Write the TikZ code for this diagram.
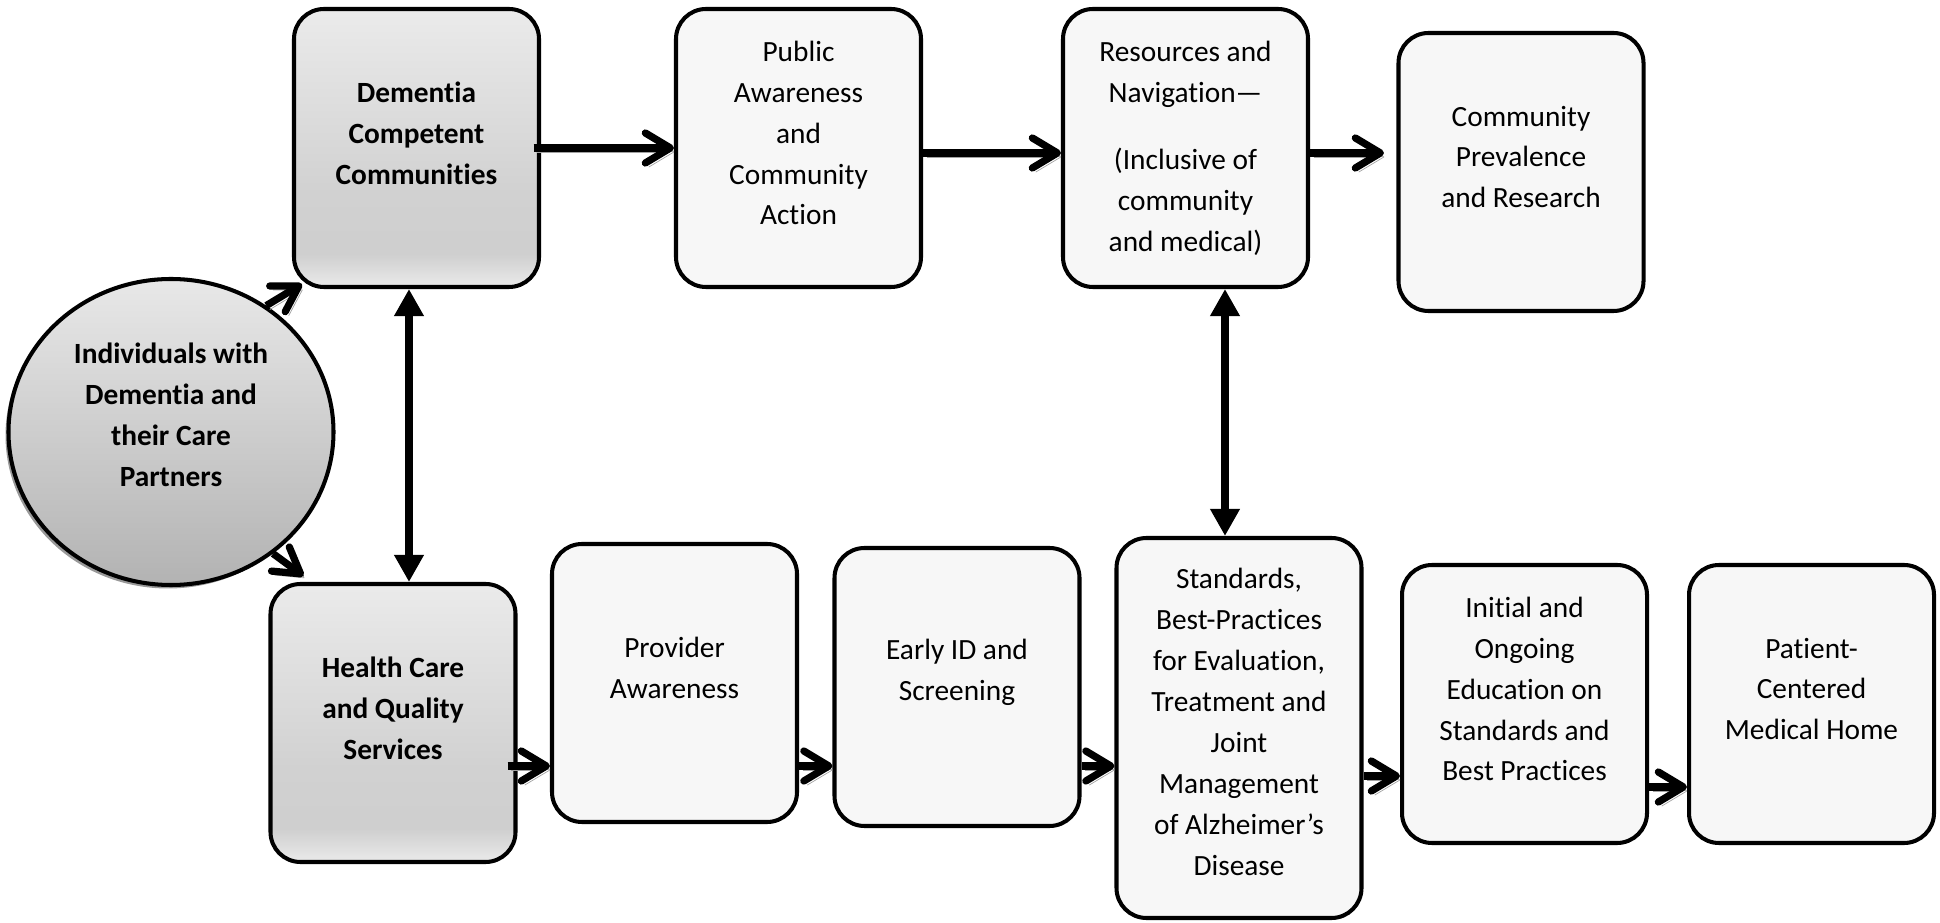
\documentclass[tikz,border=0pt]{standalone}
\usepackage{fontspec}
\setmainfont{Carlito}[Ligatures=NoCommon]
\usetikzlibrary{arrows.meta,shapes.geometric,shadows}
\definecolor{boxfill}{gray}{0.97}
\definecolor{arrowshade}{gray}{0.63}
\newcommand{\boxsize}{\fontsize{16.7pt}{23.3pt}\selectfont}
\pgfdeclareverticalshading{softgray}{100bp}{color(0bp)=(black!8); color(25bp)=(black!8); color(31bp)=(black!19); color(42bp)=(black!18); color(75bp)=(black!8); color(100bp)=(black!8)}
\tikzset{
  box/.style={draw, line width=2.3pt, rounded corners=0.6cm, fill=boxfill,
    minimum width=4.9cm, minimum height=5.56cm, inner sep=0pt},
  shadedbox/.style={box, shading=softgray},
  circ/.style={ellipse, draw, line width=2.3pt, top color=black!9, bottom color=black!30,
    minimum width=6.5cm, minimum height=6.12cm, inner sep=0pt,
    drop shadow={shadow xshift=-0.06cm, shadow yshift=-0.07cm, fill=black!40, opacity=1}},
  txt/.style={align=center, font=\boxsize, yshift=0.3cm},
  txtb/.style={txt, font=\boxsize\bfseries},
  flow/.style={line width=0.145cm, -{Straight Barb[length=0.5cm, width=0.6cm, round]},
    preaction={draw=arrowshade, transform canvas={shift={(0.07cm,-0.08cm)}}}},
  link/.style={line width=0.17cm, {Triangle[length=0.54cm, width=0.56cm]}-{Triangle[length=0.54cm, width=0.56cm]}}
}
\begin{document}
\begin{tikzpicture}
   \useasboundingbox (0,0) rectangle (38.8,18.44);
   % community row
   \node[shadedbox, label={[txtb]center:{Dementia\\Competent\\Communities}}] (dcc) at (8.33,15.48) {};
   \node[box, label={[txt]center:{Public\\Awareness\\and\\Community\\Action}}] (pub) at (15.97,15.48) {};
   \node[box, label={[txt, yshift=-0.3cm]center:{Resources and\\Navigation\textemdash\\[0.52cm](Inclusive of\\community\\and medical)}}] (res) at (23.71,15.48) {};
   \node[box, label={[txt]center:{Community\\Prevalence\\and Research}}] (comm) at (30.42,15.0) {};
   % individuals
   \node[circ, label={[txtb, yshift=0.04cm]center:{Individuals with\\Dementia and\\their Care\\Partners}}] (ind) at (3.42,9.8) {};
   % health care row
   \node[shadedbox, label={[txtb]center:{Health Care\\and Quality\\Services}}] (hc) at (7.86,3.98) {};
   \node[box, label={[txt]center:{Provider\\Awareness}}] (prov) at (13.49,4.78) {};
   \node[box, label={[txt]center:{Early ID and\\Screening}}] (early) at (19.14,4.7) {};
   \node[box, minimum height=7.6cm, label={[txt, yshift=-0.18cm]center:{Standards,\\Best-Practices\\for Evaluation,\\Treatment and\\Joint\\Management\\of Alzheimer’s\\Disease}}] (std) at (24.78,3.88) {};
   \node[box, label={[txt]center:{Initial and\\Ongoing\\Education on\\Standards and\\Best Practices}}] (init) at (30.49,4.36) {};
   \node[box, label={[txt]center:{Patient-\\Centered\\Medical Home}}] (pat) at (36.23,4.36) {};
   % top arrows
   \draw[flow, shorten <=-0.15cm] (dcc.east) -- (pub.west);
   \coordinate (a1) at ([yshift=-0.1cm]pub.east);
   \draw[flow] (a1) -- (a1 -| res.west);
   \coordinate (a2) at ([yshift=-0.1cm]res.east);
   \draw[flow, shorten >=0.25cm] (a2) -- (a2 -| comm.west);
   % from the individuals
   \draw[flow] (ind.53) -- ([xshift=0.2cm,yshift=0.1cm]dcc.south west);
   \draw[flow] (ind.-50) -- ([xshift=0.7cm,yshift=0.12cm]hc.north west);
   % two-way links
   \coordinate (v1) at ([xshift=-0.15cm]dcc.south);
   \draw[link] (v1) -- (v1 |- hc.north);
   \coordinate (v2) at ([xshift=0.79cm]res.south);
   \draw[link] (v2) -- (v2 |- std.north);
   % bottom arrows
   \coordinate (b1) at ([yshift=-0.86cm]hc.east);
   \draw[flow, shorten <=-0.2cm] (b1) -- (b1 -| prov.west);
   \coordinate (b2) at ([yshift=-1.66cm]prov.east);
   \draw[flow] (b2) -- (b2 -| early.west);
   \coordinate (b3) at ([yshift=-1.58cm]early.east);
   \draw[flow] (b3) -- (b3 -| std.west);
   \coordinate (b4) at ([yshift=-0.96cm]std.east);
   \draw[flow] (b4) -- (b4 -| init.west);
   \coordinate (b5) at ([yshift=-1.66cm]init.east);
   \draw[flow] (b5) -- (b5 -| pat.west);
\end{tikzpicture}
\end{document}
